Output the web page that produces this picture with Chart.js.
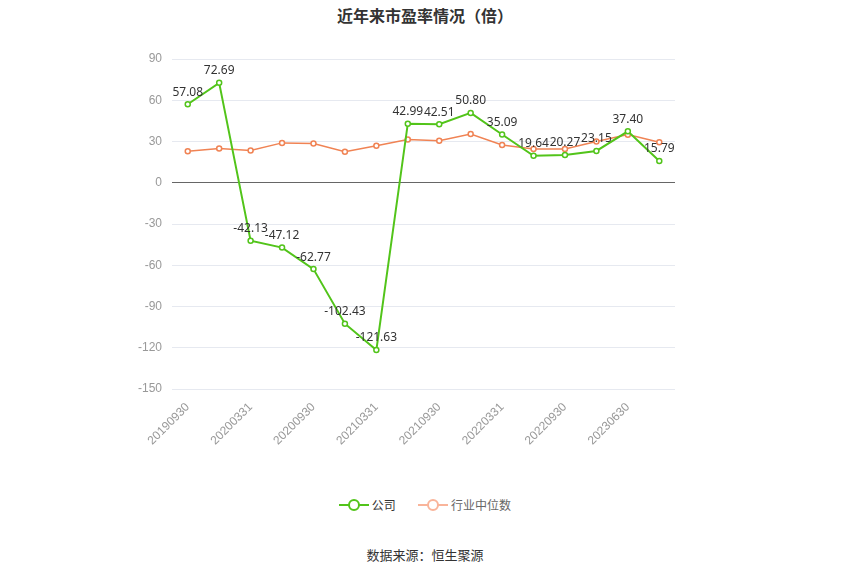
<!DOCTYPE html>
<html><head><meta charset="utf-8">
<script src="https://cdn.jsdelivr.net/npm/chart.js@4/dist/chart.umd.min.js"></script>
<style>
body{margin:0;width:850px;height:575px;background:#fff;font-family:"Noto Sans CJK SC","Noto Sans",sans-serif;position:relative;overflow:hidden}
#title{position:absolute;top:3px;left:0;width:850px;text-align:center;font-size:16px;font-weight:bold;color:#333}
#wrap{position:absolute;left:0;top:0;width:850px;height:451px}
#legend{position:absolute;top:496px;left:0;width:850px;text-align:center;font-size:12px;color:#333}
#legend span{display:inline-flex;align-items:center;margin:0 10px}
#src{position:absolute;top:545px;left:0;width:850px;text-align:center;font-size:13px;color:#333}
</style></head><body>
<div id="title">近年来市盈率情况（倍）</div>
<div id="wrap"><canvas id="c"></canvas></div>
<div id="legend">
<span><svg width="30" height="14"><line x1="0" y1="7" x2="30" y2="7" stroke="#52c41a" stroke-width="2"/><circle cx="15" cy="7" r="5" fill="#fff" stroke="#52c41a" stroke-width="2"/></svg>&nbsp;公司</span>
<span style="color:#666"><svg width="30" height="14"><line x1="0" y1="7" x2="30" y2="7" stroke="#f9b49a" stroke-width="2"/><circle cx="15" cy="7" r="5" fill="#fff" stroke="#f9b49a" stroke-width="2"/></svg>&nbsp;行业中位数</span>
</div>
<div id="src">数据来源：恒生聚源</div>
<script>
// ===== 데이터 =====
var LABELS = ["20190930","20191231","20200331","20200630","20200930","20201231","20210331","20210630","20210930","20211231","20220331","20220630","20220930","20230331","20230630","20230930"];
var COMPANY = [57.08,72.69,-42.13,-47.12,-62.77,-102.43,-121.63,42.99,42.51,50.80,35.09,19.64,20.27,23.15,37.40,15.79];
var INDUSTRY = [23,25,23.5,29,28.5,22.5,27,31.5,30.5,35.5,27.5,24.5,24.5,30,35,29.5];
var Y_MIN = -150, Y_MAX = 90, Y_STEP = 30;

var pointLabels = {
  id: "pointLabels",
  afterDatasetsDraw: function (chart) {
    var ctx = chart.ctx;
    var meta = chart.getDatasetMeta(0);
    ctx.save();
    ctx.font = "12px 'Noto Sans', sans-serif";
    ctx.fillStyle = "#333";
    ctx.textAlign = "center";
    ctx.textBaseline = "bottom";
    meta.data.forEach(function (p, i) {
      ctx.fillText(COMPANY[i].toFixed(2), p.x, p.y - 6);
    });
    ctx.restore();
  }
};

new Chart(document.getElementById("c"), {
  type: "line",
  data: {
    labels: LABELS,
    datasets: [
      { label: "公司", data: COMPANY, borderColor: "#52c41a", backgroundColor: "#fff", borderWidth: 2, pointRadius: 2.5, pointBorderWidth: 1.5, pointBorderColor: "#52c41a", tension: 0 },
      { label: "行业中位数", data: INDUSTRY, borderColor: "#f08354", backgroundColor: "#fff", borderWidth: 1.5, pointRadius: 2.5, pointBorderWidth: 1.5, pointBorderColor: "#f08354", tension: 0 }
    ]
  },
  options: {
    responsive: true, maintainAspectRatio: false, animation: false,
    layout: { padding: { left: 128, right: 175, top: 59, bottom: 0 } },
    plugins: { legend: { display: false }, tooltip: { enabled: false } },
    scales: {
      x: {
        offset: true,
        grid: { display: false },
        border: { display: false },
        ticks: { autoSkip: false, maxRotation: 45, minRotation: 45, color: "#999", font: { size: 12 },
          callback: function (v, i) { return i % 2 === 0 ? LABELS[i] : ""; } }
      },
      y: {
        min: Y_MIN, max: Y_MAX,
        ticks: { stepSize: Y_STEP, color: "#999", font: { size: 12 }, padding: 10 },
        grid: { color: function (c) { return c.tick.value === 0 ? "#666" : "#e6e9f0"; }, drawTicks: false },
        border: { display: false }
      }
    }
  },
  plugins: [pointLabels]
});
</script>
</body></html>
